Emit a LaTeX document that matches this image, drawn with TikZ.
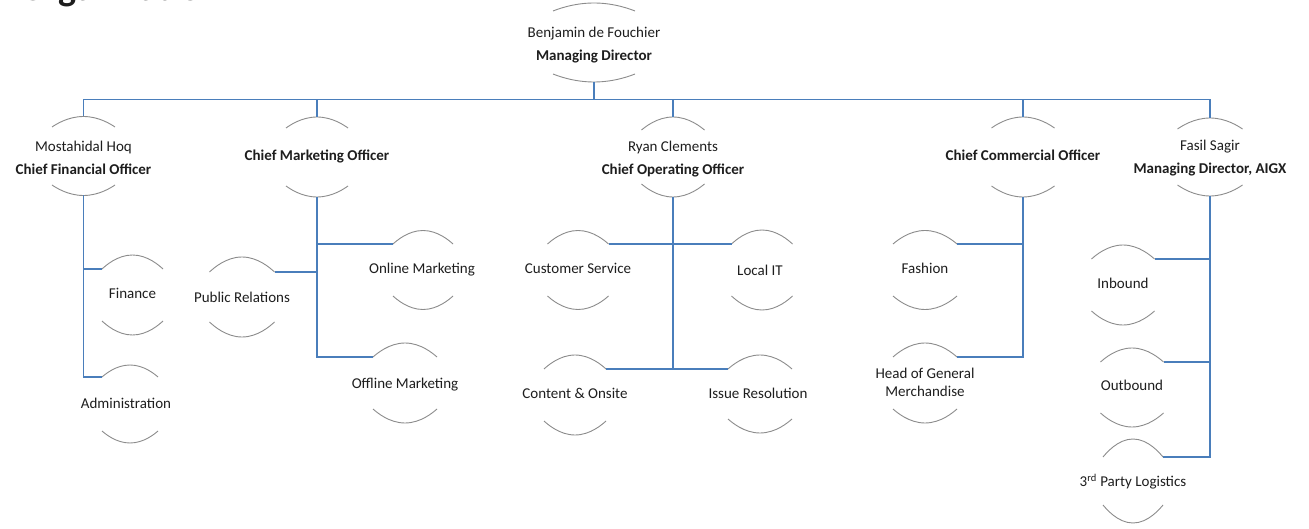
\documentclass[tikz,border=0pt]{standalone}
\usepackage{fontspec}
\setmainfont{Carlito}
\usetikzlibrary{calc}
\definecolor{connblue}{HTML}{4A7EBB}
\definecolor{arcgray}{HTML}{8C8C8C}
\definecolor{txt}{HTML}{1E1E1E}
\tikzset{
  orgtext/.style={align=center, text=txt, font=\fontsize{15}{18}\selectfont, inner sep=0pt},
  arcline/.style={draw=arcgray, line width=0.9pt},
  conn/.style={draw=connblue, line width=1.2pt},
}
% #1 text options, #2 name, #3 x, #4 y, #5 half width of arc, #6 arc end offset, #7 arc apex offset, #8 text
\newcommand\orgnode[8][]{%
  \node[orgtext,#1] (#2) at (#3,#4) {#8};
  \coordinate (#2-tl) at (#3-#5,#4-#6);
  \coordinate (#2-tr) at (#3+#5,#4-#6);
  \coordinate (#2-bl) at (#3-#5,#4+#6);
  \coordinate (#2-br) at (#3+#5,#4+#6);
  \coordinate (#2-top) at (#3,#4-#7);
  \coordinate (#2-bot) at (#3,#4+#7);
  \draw[arcline] (#2-tl) parabola bend (#2-top) (#2-tr);
  \draw[arcline] (#2-bl) parabola bend (#2-bot) (#2-br);
}
\begin{document}
\begin{tikzpicture}[x=1pt,y=-1pt]
\useasboundingbox (0,0) rectangle (1309,529);
\fill[white] (0,0) rectangle (1309,529);
\clip (0,0) rectangle (1309,529);

\node[anchor=base west, font=\fontsize{38}{40}\selectfont\bfseries, text=txt, inner sep=0pt] (title) at (20,1) {Organization};

% level 0 / 1
\orgnode[yshift=-2.5pt]{MD}{594}{42.5}{41}{31.5}{39.5}{Benjamin de Fouchier\\[5pt]\textbf{Managing Director}}
\orgnode[yshift=-2pt]{CFO}{83.5}{156}{31.5}{29}{39.5}{Mostahidal Hoq\\[5pt]\textbf{Chief Financial Officer}}
\orgnode[yshift=1pt]{CMO}{317}{157}{31}{29}{40}{\textbf{Chief Marketing Officer}}
\orgnode[yshift=-2pt]{COO}{673}{157}{31.5}{27}{40}{Ryan Clements\\[5pt]\textbf{Chief Operating Officer}}
\orgnode[yshift=2pt]{CCO}{1023}{157}{31.5}{29}{40}{\textbf{Chief Commercial Officer}}
\orgnode[yshift=-1.5pt]{FAS}{1210}{157}{32.5}{28}{39}{Fasil Sagir\\[5pt]\textbf{Managing Director, AIGX}}

% level 2
\orgnode[yshift=2pt]{FIN}{132.5}{295}{30.5}{26}{40}{Finance}
\orgnode[yshift=1pt,xshift=-4pt]{ADM}{130}{404}{28}{27}{39}{Administration}
\orgnode{PR}{242}{297}{32.5}{25}{40}{Public Relations}
\orgnode[xshift=-1pt]{ONL}{423}{270}{30}{26}{39.5}{Online Marketing}
\orgnode[yshift=-2pt]{OFF}{405}{383}{32}{26}{40}{Offline Marketing}
\orgnode[yshift=2pt]{CS}{578}{270}{30.5}{26}{39.5}{Customer Service}
\orgnode[xshift=-2pt]{LIT}{762}{270}{30.5}{26}{40}{Local IT}
\orgnode[yshift=2pt]{CON}{575}{395}{31}{26}{40}{Content \& Onsite}
\orgnode[yshift=1pt,xshift=-2pt]{ISS}{760}{394}{32}{25}{39}{Issue Resolution}
\orgnode[yshift=2pt]{FSH}{925}{270}{32}{26}{39.5}{Fashion}
\orgnode[yshift=1pt]{HGM}{925}{383}{32}{26}{40}{Head of General\\Merchandise}
\orgnode[yshift=2pt]{INB}{1123}{285}{31.5}{26}{40}{Inbound}
\orgnode[yshift=2pt]{OUT}{1132}{387.5}{31.5}{25.5}{39.5}{Outbound}
\orgnode[yshift=-1pt]{TPL}{1133}{481}{30}{24}{42}{3\textsuperscript{rd} Party Logistics}

% top bar
\coordinate (bar) at (594,99.5);
\draw[conn] (CFO-top) -- (CFO-top |- bar) -- (FAS-top |- bar) -- (FAS-top);
\draw[conn] (MD-bot) -- (MD-bot |- bar);
\draw[conn] (CMO-top |- bar) -- (CMO-top);
\draw[conn] (COO-top |- bar) -- (COO-top);
\draw[conn] (CCO-top |- bar) -- (CCO-top);

% CFO branch
\draw[conn] (CFO-bot) |- (ADM-tl);
\draw[conn] (CFO-bot |- FIN-tl) -- (FIN-tl);

% CMO branch
\draw[conn] (CMO-bot) |- (OFF-tl);
\draw[conn] (CMO-bot |- ONL-tl) -- (ONL-tl);
\draw[conn] (CMO-bot |- PR-tr) -- (PR-tr);

% COO branch
\draw[conn] (COO-bot) -- (COO-bot |- CON-tr);
\draw[conn] (CS-tr) -- (LIT-tl);
\draw[conn] (CON-tr) -- (ISS-tl);

% CCO branch
\draw[conn] (CCO-bot) |- (HGM-tr);
\draw[conn] (CCO-bot |- FSH-tr) -- (FSH-tr);

% Fasil branch
\draw[conn] (FAS-bot) |- (TPL-tr);
\draw[conn] (FAS-bot |- INB-tr) -- (INB-tr);
\draw[conn] (FAS-bot |- OUT-tr) -- (OUT-tr);
\end{tikzpicture}
\end{document}
